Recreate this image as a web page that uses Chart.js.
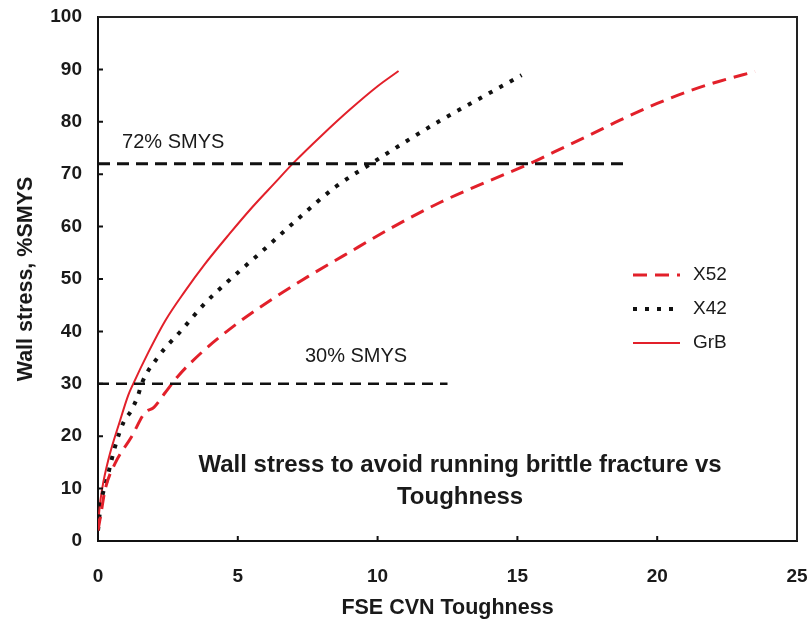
<!DOCTYPE html>
<html>
<head>
<meta charset="utf-8">
<script src="https://cdn.jsdelivr.net/npm/chart.js@4/dist/chart.umd.min.js"></script>
<style>
  html, body { margin: 0; padding: 0; background: #fff; }
  #wrap { width: 812px; height: 621px; position: relative; }
</style>
</head>
<body>
<div id="wrap"><canvas id="c" width="812" height="621"></canvas></div>
<script>
// Toughness (FSE CVN) and wall stress (%SMYS) for each grade
const grbX = [0, 0.05, 0.15, 0.37, 0.79, 1.08, 1.26, 1.8, 2.4, 3.1, 3.8, 4.7, 5.5, 6.3, 7.0, 8.0, 9.0, 10.0, 10.75];
const grbY = [2, 6, 10, 15.5, 23, 27.8, 30, 36.0, 42.0, 47.6, 52.7, 58.6, 63.6, 68.2, 72.2, 77.4, 82.3, 86.8, 89.7];

const x42X = [0, 0.1, 0.31, 0.61, 0.9, 1.2, 1.44, 1.56, 2.16, 3.0, 3.83, 4.66, 5.85, 7.05, 8.5, 9.85, 11, 12.23, 13.5, 15.15];
const x42Y = [2, 7, 11.6, 18, 22.5, 25, 27.9, 30, 35.2, 40.3, 45.4, 49.6, 55.2, 61.0, 67.6, 72.3, 76.2, 80.2, 84, 88.9];

const x52X = [0, 0.1, 0.25, 0.61, 1.2, 1.68, 2.0, 2.4, 2.87, 3.71, 4.9, 6.21, 7.52, 8.8, 10.44, 12.23, 14.02, 15.56, 16.3, 17.6, 18.67, 20, 21.05, 22.2, 23.5];
const x52Y = [2, 5, 9.7, 14.8, 19.9, 24.5, 25.5, 28.3, 31.5, 36.0, 41.2, 46.1, 50.5, 54.5, 59.6, 64.6, 68.8, 72.3, 74.2, 77.5, 80.3, 83.5, 85.7, 87.7, 89.6];

// Stress limits (%SMYS) and how far each limit line runs along the toughness axis
const limitLevels = [72, 30];
const limitEnds = [19, 12.5];
const limitLabels = ['72% SMYS', '30% SMYS'];
const limitLabelAt = [[0.86, 76.1], [7.4, 35.3]];

const seriesNames = ['X52', 'X42', 'GrB'];
const titleLines = ['Wall stress to avoid running brittle fracture vs', 'Toughness'];
const titleAt = [[12.95, 14.5], [12.95, 8.4]];

const xTicks = [0, 5, 10, 15, 20, 25];
const yTicks = [0, 10, 20, 30, 40, 50, 60, 70, 80, 90, 100];

const RED = 'rgb(226,32,42)';
const FONT = '"Liberation Sans", Arial, sans-serif';

const pts = (xs, ys) => xs.map((x, i) => ({ x, y: ys[i] }));

const datasets = [
  {
    label: 'limit72', data: [{ x: 0, y: limitLevels[0] }, { x: limitEnds[0], y: limitLevels[0] }],
    borderColor: '#111', borderWidth: 3, borderDash: [12, 7], legendSkip: true
  },
  {
    label: 'limit30', data: [{ x: 0, y: limitLevels[1] }, { x: limitEnds[1], y: limitLevels[1] }],
    borderColor: '#111', borderWidth: 2.5, borderDash: [11, 7], legendSkip: true
  },
  {
    label: seriesNames[0], data: pts(x52X, x52Y),
    borderColor: RED, borderWidth: 3, borderDash: [14, 8]
  },
  {
    label: seriesNames[1], data: pts(x42X, x42Y),
    borderColor: '#111', borderWidth: 4, borderDash: [4, 8], borderCapStyle: 'butt'
  },
  {
    label: seriesNames[2], data: pts(grbX, grbY),
    borderColor: RED, borderWidth: 2
  }
];
datasets.forEach(d => {
  d.showLine = true;
  d.pointRadius = 0;
  d.fill = false;
  d.cubicInterpolationMode = 'monotone';
});

// Frame, inward tick marks, text notes and the line-sample legend
const decor = {
  id: 'decor',
  afterDatasetsDraw(chart) {
    const { ctx, chartArea: a, scales: { x, y } } = chart;
    ctx.save();
    // top and right frame edges
    ctx.strokeStyle = '#222';
    ctx.lineWidth = 2;
    ctx.beginPath();
    ctx.moveTo(a.left, a.top);
    ctx.lineTo(a.right, a.top);
    ctx.lineTo(a.right, a.bottom);
    ctx.stroke();
    // inward ticks
    ctx.strokeStyle = '#111';
    ctx.lineWidth = 2;
    ctx.beginPath();
    yTicks.forEach(v => {
      if (v === 0 || v === 100) return;
      const py = y.getPixelForValue(v);
      ctx.moveTo(a.left, py);
      ctx.lineTo(a.left + 5, py);
    });
    xTicks.forEach(v => {
      if (v === 0 || v === 25) return;
      const px = x.getPixelForValue(v);
      ctx.moveTo(px, a.bottom);
      ctx.lineTo(px, a.bottom - 5);
    });
    ctx.stroke();

    // limit labels
    ctx.fillStyle = '#1a1a1a';
    ctx.font = '20px ' + FONT;
    ctx.textAlign = 'left';
    ctx.textBaseline = 'middle';
    limitLabels.forEach((t, i) => {
      ctx.fillText(t, x.getPixelForValue(limitLabelAt[i][0]), y.getPixelForValue(limitLabelAt[i][1]));
    });

    // note inside the plot
    ctx.font = 'bold 24px ' + FONT;
    ctx.textAlign = 'center';
    titleLines.forEach((t, i) => {
      ctx.fillText(t, x.getPixelForValue(titleAt[i][0]), y.getPixelForValue(titleAt[i][1]));
    });

    // legend
    const lx0 = 633, lx1 = 680, ly0 = 275, lstep = 34;
    let row = 0;
    ctx.font = '19px ' + FONT;
    ctx.textAlign = 'left';
    chart.data.datasets.forEach(d => {
      if (d.legendSkip) return;
      const ly = ly0 + row * lstep;
      ctx.save();
      ctx.strokeStyle = d.borderColor;
      ctx.lineWidth = d.borderWidth;
      ctx.setLineDash(d.borderDash || []);
      ctx.beginPath();
      ctx.moveTo(lx0, ly);
      ctx.lineTo(lx1, ly);
      ctx.stroke();
      ctx.restore();
      ctx.fillStyle = '#1a1a1a';
      ctx.fillText(d.label, lx1 + 13, ly);
      row++;
    });
    ctx.restore();
  }
};

// keep tick-label overflow from shrinking the plot box
const noOverflow = s => {
  s.paddingTop = 0; s.paddingBottom = 0; s.paddingLeft = 0; s.paddingRight = 0;
};

new Chart(document.getElementById('c'), {
  type: 'scatter',
  data: { datasets },
  options: {
    responsive: false,
    animation: false,
    layout: { padding: { left: 0, right: 15, top: 17, bottom: 0 } },
    plugins: { legend: { display: false }, tooltip: { enabled: false } },
    scales: {
      x: {
        type: 'linear', min: 0, max: 25,
        afterFit: s => { s.height = 80; noOverflow(s); },
        afterBuildTicks: s => { s.ticks = xTicks.map(v => ({ value: v })); },
        grid: { display: false, drawTicks: false },
        border: { display: true, color: '#111', width: 2 },
        ticks: { padding: 24, color: '#1a1a1a', font: { family: FONT, size: 19, weight: 'bold' } },
        title: {
          display: true, text: 'FSE CVN Toughness', color: '#1a1a1a',
          font: { family: FONT, size: 21.5, weight: 'bold' }, padding: { top: 0, bottom: 0 }
        }
      },
      y: {
        type: 'linear', min: 0, max: 100,
        afterFit: s => { s.width = 98; noOverflow(s); },
        afterBuildTicks: s => { s.ticks = yTicks.map(v => ({ value: v })); },
        grid: { display: false, drawTicks: false },
        border: { display: true, color: '#111', width: 2 },
        ticks: { padding: 16, color: '#1a1a1a', font: { family: FONT, size: 19, weight: 'bold' } },
        title: {
          display: true, text: 'Wall stress, %SMYS', color: '#1a1a1a',
          font: { family: FONT, size: 21.5, weight: 'bold' }, padding: { top: 13, bottom: 0 }
        }
      }
    }
  },
  plugins: [decor]
});
</script>
</body>
</html>
